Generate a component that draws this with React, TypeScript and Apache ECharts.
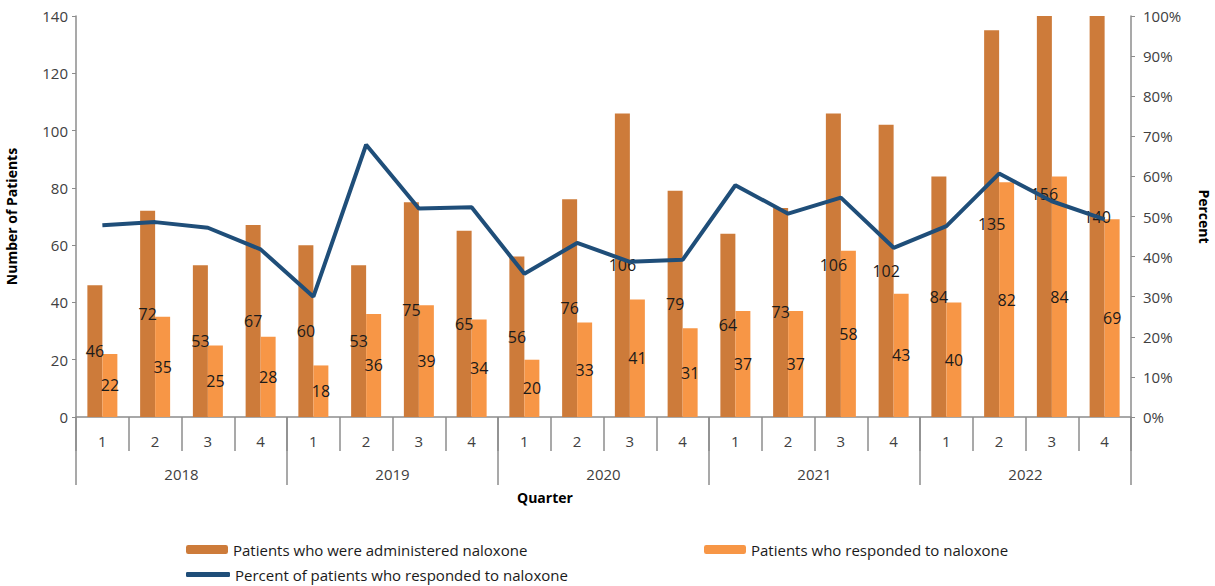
import React, { useEffect, useRef } from "react";
import * as echarts from "echarts";

const quarters = ["1", "2", "3", "4", "1", "2", "3", "4", "1", "2", "3", "4", "1", "2", "3", "4", "1", "2", "3", "4"];
const years = ["2018", "2019", "2020", "2021", "2022"];
const administered = [46, 72, 53, 67, 60, 53, 75, 65, 56, 76, 106, 79, 64, 73, 106, 102, 84, 135, 156, 140];
const responded = [22, 35, 25, 28, 18, 36, 39, 34, 20, 33, 41, 31, 37, 37, 58, 43, 40, 82, 84, 69];
const percentResponded = [47.8, 48.6, 47.2, 41.8, 30.0, 67.9, 52.0, 52.3, 35.7, 43.4, 38.7, 39.2, 57.8, 50.7, 54.7, 42.2, 47.6, 60.7, 53.8, 49.3];

const LEFT_MAX = 140;
const FONT = "'Open Sans', 'Noto Sans', sans-serif";
const AXIS_COLOR = "#8c8c8c";
const TEXT_COLOR = "#404040";
const GRID_TOP = 16;
const GRID_BOTTOM = 169;
const HEIGHT = 586;

export default function App() {
  const ref = useRef<HTMLDivElement>(null);
  useEffect(() => {
    if (!ref.current) return;
    const chart = echarts.init(ref.current, undefined, { renderer: "svg" });
    const labelStyle = {
      show: true,
      position: "inside",
      color: "#1a1a1a",
      fontSize: 16,
      fontFamily: FONT,
    };
    const legendText = { fontSize: 15, color: "#1a1a1a", fontFamily: FONT };
    const plotH = HEIGHT - GRID_TOP - GRID_BOTTOM;
    // bars taller than the axis are clipped; keep their label at the centre of the full bar
    const adminData = administered.map((v) =>
      v > LEFT_MAX
        ? { value: v, label: { offset: [0, -((v - LEFT_MAX) / 2) * (plotH / LEFT_MAX)] } }
        : v
    );
    chart.setOption({
      animation: false,
      textStyle: { fontFamily: FONT },
      grid: { left: 76, right: 84, top: GRID_TOP, bottom: GRID_BOTTOM, outerBoundsMode: "none", containLabel: false },
      legend: [
        {
          data: ["Patients who were administered naloxone"],
          left: 186,
          top: 542,
          padding: 0,
          itemWidth: 42,
          itemHeight: 9,
          textStyle: legendText,
        },
        {
          data: ["Patients who responded to naloxone"],
          left: 704,
          top: 542,
          padding: 0,
          itemWidth: 42,
          itemHeight: 9,
          textStyle: legendText,
        },
        {
          data: [{ name: "Percent of patients who responded to naloxone", icon: "roundRect" }],
          left: 186,
          top: 567,
          padding: 0,
          itemWidth: 44,
          itemHeight: 5,
          textStyle: legendText,
        },
      ],
      xAxis: [
        {
          type: "category",
          data: quarters,
          position: "bottom",
          offset: 0,
          axisLine: { show: true, lineStyle: { color: AXIS_COLOR, width: 1.5 } },
          axisTick: { show: true, interval: 0, length: 34, lineStyle: { color: AXIS_COLOR, width: 1.5 } },
          axisLabel: { interval: 0, margin: 16, fontSize: 15, color: TEXT_COLOR, fontFamily: FONT },
          splitLine: { show: false },
        },
        {
          type: "category",
          data: years,
          position: "bottom",
          offset: 0,
          axisLine: { show: false },
          axisTick: { show: true, interval: 0, length: 68, lineStyle: { color: AXIS_COLOR, width: 1.5 } },
          axisLabel: { interval: 0, margin: 49, fontSize: 15, color: TEXT_COLOR, fontFamily: FONT },
          splitLine: { show: false },
        },
      ],
      yAxis: [
        {
          type: "value",
          min: 0,
          max: LEFT_MAX,
          interval: 20,
          name: "Number of Patients",
          nameLocation: "middle",
          nameGap: 58,
          nameTextStyle: { fontWeight: "bold", fontSize: 14, color: "#000", fontFamily: FONT },
          axisLine: { show: true, lineStyle: { color: AXIS_COLOR, width: 1.5 } },
          axisTick: { show: true, length: 4, lineStyle: { color: AXIS_COLOR } },
          axisLabel: { fontSize: 15, color: TEXT_COLOR, margin: 8, fontFamily: FONT },
          splitLine: { show: false },
        },
        {
          type: "value",
          min: 0,
          max: 100,
          interval: 10,
          position: "right",
          name: "Percent",
          nameLocation: "middle",
          nameGap: 66,
          nameRotate: -90,
          nameTextStyle: { fontWeight: "bold", fontSize: 14, color: "#000", fontFamily: FONT },
          axisLine: { show: true, lineStyle: { color: AXIS_COLOR, width: 1.5 } },
          axisTick: { show: true, length: 4, lineStyle: { color: AXIS_COLOR } },
          axisLabel: { fontSize: 15, color: TEXT_COLOR, margin: 12, formatter: "{value}%", fontFamily: FONT },
          splitLine: { show: false },
        },
      ],
      graphic: [
        {
          type: "text",
          left: 517,
          top: 490,
          style: { text: "Quarter", font: `bold 14px ${FONT}`, fill: "#000" },
        },
      ],
      series: [
        {
          name: "Patients who were administered naloxone",
          type: "bar",
          data: adminData,
          xAxisIndex: 0,
          yAxisIndex: 0,
          barWidth: 15,
          barGap: "0%",
          itemStyle: { color: "#CD7B3A" },
          label: labelStyle,
        },
        {
          name: "Patients who responded to naloxone",
          type: "bar",
          data: responded,
          xAxisIndex: 0,
          yAxisIndex: 0,
          barWidth: 15,
          barGap: "0%",
          itemStyle: { color: "#F79646" },
          label: labelStyle,
        },
        {
          name: "Percent of patients who responded to naloxone",
          type: "line",
          data: percentResponded,
          xAxisIndex: 0,
          yAxisIndex: 1,
          symbol: "none",
          showSymbol: false,
          z: 5,
          lineStyle: { color: "#1F4E79", width: 4 },
          itemStyle: { color: "#1F4E79" },
        },
      ],
    });
    return () => chart.dispose();
  }, []);
  return (
    <div
      ref={ref}
      style={{ position: "fixed", left: 0, top: 0, width: 1215, height: 586, background: "#fff" }}
    />
  );
}
